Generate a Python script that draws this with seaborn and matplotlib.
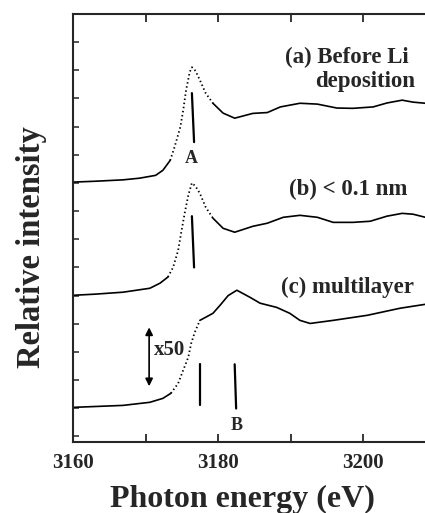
import matplotlib as mpl
mpl.use("Agg")
import numpy as np
import pandas as pd
import matplotlib.pyplot as plt
import seaborn as sns

# spectra (photon energy in eV, relative intensity offset per curve)
energy_a = [3160, 3163, 3166.9, 3169.2, 3171.4, 3172.4, 3173.4, 3174.0, 3174.8, 3175.2, 3175.6, 3176.1,
            3176.4, 3176.9, 3177.5, 3178.3, 3179.3, 3180.7, 3182.3, 3184.8, 3186.8, 3188.6, 3191.3, 3193.7,
            3196.4, 3198.6, 3201.4, 3203.3, 3205.4, 3206.9, 3208.6]
inten_a = [9.03, 9.06, 9.11, 9.17, 9.27, 9.45, 9.8, 10.27, 10.98, 11.58, 12.3, 12.94,
           13.11, 12.98, 12.65, 12.19, 11.83, 11.48, 11.3, 11.47, 11.5, 11.7, 11.83, 11.8,
           11.66, 11.65, 11.7, 11.84, 11.94, 11.87, 11.83]

energy_b = [3160, 3163, 3166.9, 3170.6, 3172.0, 3173.1, 3173.8, 3174.5, 3174.9, 3175.4, 3175.9, 3176.4,
            3176.9, 3177.5, 3178.3, 3179.3, 3180.7, 3182.3, 3184.8, 3186.8, 3189.0, 3191.3, 3193.7, 3195.9,
            3198.6, 3201.0, 3203.3, 3205.4, 3206.9, 3208.6]
inten_b = [5.01, 5.05, 5.12, 5.26, 5.44, 5.66, 6.0, 6.6, 7.2, 7.92, 8.56, 9.0,
           8.88, 8.63, 8.14, 7.75, 7.39, 7.25, 7.46, 7.57, 7.78, 7.85, 7.78, 7.6,
           7.6, 7.64, 7.82, 7.92, 7.89, 7.78]

energy_c = [3160, 3163, 3166.9, 3170.6, 3172.4, 3173.5, 3174.5, 3175.2, 3175.9, 3176.3, 3176.8, 3177.5,
            3178.3, 3179.3, 3180.3, 3181.4, 3182.6, 3184.4, 3185.8, 3188.1, 3189.9, 3191.3, 3192.7,
            3195.9, 3200.6, 3205.1, 3208.6]
inten_c = [1.03, 1.06, 1.1, 1.21, 1.35, 1.53, 1.88, 2.35, 2.81, 3.3, 3.7, 4.12,
           4.23, 4.37, 4.66, 5.0, 5.19, 4.94, 4.73, 4.58, 4.37, 4.12, 4.01,
           4.12, 4.3, 4.55, 4.69]

# steep edge parts are drawn dotted (sparse data points in the original)
edges = {"a": (3173.4, 3179.3), "b": (3173.1, 3179.3), "c": (3173.5, 3177.5)}
labels = {"a": "(a) Before Li", "b": "(b) < 0.1 nm", "c": "(c) multilayer"}

curves = {"a": (energy_a, inten_a), "b": (energy_b, inten_b), "c": (energy_c, inten_c)}

sns.set_style("ticks")
serif = ["Liberation Serif", "DejaVu Serif"]
plt.rcParams["font.family"] = serif
plt.rcParams["font.weight"] = "bold"

fig = plt.figure(figsize=(4.25, 5.13), dpi=100)
ax = fig.add_axes([73 / 425, 1 - 442 / 513, 1 - 73 / 425, (442 - 14) / 513])

for key, (e, y) in curves.items():
    df = pd.DataFrame({"energy": e, "intensity": y})
    lo, hi = edges[key]
    pre = df[df.energy <= lo]
    mid = df[(df.energy >= lo) & (df.energy <= hi)]
    post = df[df.energy >= hi]
    sns.lineplot(data=pre, x="energy", y="intensity", ax=ax, color="black", lw=1.2)
    sns.lineplot(data=mid, x="energy", y="intensity", ax=ax, color="black", lw=1.3,
                 linestyle=(0, (0.8, 1.5)))
    sns.lineplot(data=post, x="energy", y="intensity", ax=ax, color="black", lw=1.2)

# peak markers
ax.plot([3176.4, 3176.7], [12.19, 10.45], color="black", lw=1.6)
ax.plot([3176.4, 3176.7], [7.82, 6.0], color="black", lw=1.6)
ax.plot([3177.5, 3177.5], [2.56, 1.1], color="black", lw=1.6)
ax.plot([3182.3, 3182.5], [2.56, 0.99], color="black", lw=1.6)
ax.text(3176.3, 9.88, "A", ha="center", va="center", fontsize=13, fontweight="bold")
ax.text(3182.6, 0.39, "B", ha="center", va="center", fontsize=13, fontweight="bold")

ax.annotate("", xy=(3170.5, 3.87), xytext=(3170.5, 1.78),
            arrowprops=dict(arrowstyle="<|-|>", color="black", lw=1.2, mutation_scale=11,
                            shrinkA=0, shrinkB=0))
ax.text(3171.2, 3.06, "x50", ha="left", va="center", fontsize=15, fontweight="bold")

ax.text(3197.8, 13.47, labels["a"], ha="center", va="center", fontsize=16.5, fontweight="bold")
ax.text(3200.3, 12.62, "deposition", ha="center", va="center", fontsize=16.5, fontweight="bold")
ax.text(3198.0, 8.78, labels["b"], ha="center", va="center", fontsize=16.5, fontweight="bold")
ax.text(3197.8, 5.28, labels["c"], ha="center", va="center", fontsize=16.5, fontweight="bold")

ax.set_xlim(3160, 3208.55)
ax.set_ylim(-0.2, 15.0)
ax.set_xticks([3160, 3180, 3200])
ax.set_xticks([3170, 3190], minor=True)
ax.set_yticks(np.arange(0, 15))
ax.set_yticklabels([])
ax.tick_params(axis="x", which="both", direction="in", top=True, length=6, width=1.3,
               labelsize=15, pad=8)
ax.tick_params(axis="y", direction="in", length=4, width=1.1)
for lab in ax.get_xticklabels():
    lab.set_fontweight("bold")
ax.spines["right"].set_visible(False)
for s in ["left", "top", "bottom"]:
    ax.spines[s].set_linewidth(1.5)

ax.set_xlabel("Photon energy (eV)", fontsize=23, fontweight="bold")
ax.set_ylabel("Relative intensity", fontsize=23.5, fontweight="bold")
ax.xaxis.set_label_coords(0.48, -0.1)
ax.yaxis.set_label_coords(-0.074, 0.456)

fig.savefig("out.png", dpi=100)
